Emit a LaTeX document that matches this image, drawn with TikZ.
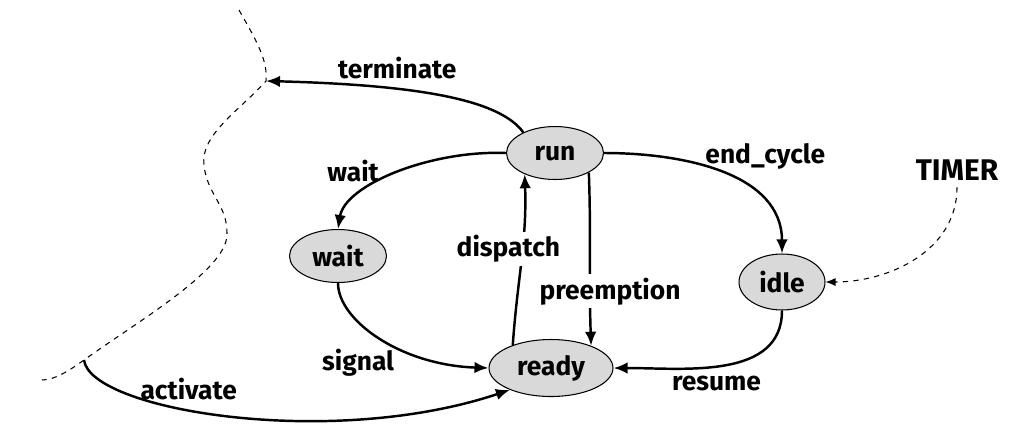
\documentclass[tikz,border=0pt]{standalone}
\usepackage{fontspec}
\setmainfont{Fira Sans}
\usepackage{tikz}
\usetikzlibrary{arrows.meta,shapes.geometric,positioning}
\definecolor{stategray}{RGB}{217,217,217}

\begin{document}
\begin{tikzpicture}[-{Latex[length=2.8mm,width=2.3mm]}, line width=1.4pt, x=0.02cm, y=-0.02cm,
      every node/.append style={font=\fontsize{15}{18}\selectfont\bfseries}]
    \tikzstyle{state} = [ellipse,draw,fill=stategray,line width=0.6pt,inner sep=0pt,minimum width=1.94cm,minimum height=1.06cm]
    \tikzstyle{label} = [fill=white,inner sep=2pt]
    \tikzstyle{border} = [-,dashed,line width=0.6pt]
    \useasboundingbox (0,0) rectangle (1036,441);
    \node (run) [state] at (555,153) {run};
    \node (wait) [state] at (338,256) {wait};
    \node (ready) [state,minimum width=2.48cm,minimum height=1.14cm] at (551,368) {ready};
    \node (idle) [state,minimum width=1.72cm,minimum height=1.12cm] at (782,282) {idle};
    \node (TIMER) [font=\fontsize{17}{20}\selectfont\bfseries] at (957,170) {TIMER};
    \coordinate (exit) at (266,81);
    \coordinate (entry) at (84,360);
    \draw[border] (239,10) .. controls (256,40) and (268,60) .. (exit)
      .. controls (240,110) and (200,135) .. (204,165)
      .. controls (207,195) and (228,205) .. (227,235)
      .. controls (226,270) and (140,320) .. (entry)
      .. controls (70,370) and (55,380) .. (42,380);
    \draw (run.147) .. controls (500,100) and (420,85) .. node[pos=0.65,xshift=-0.08cm,yshift=0.42cm] {terminate} (exit);
    \draw (run.west) .. controls (430,150) and (345,185) .. node[pos=0.5,xshift=-0.86cm,yshift=0.04cm] {wait} (wait.north);
    \draw (wait.south) .. controls (338,320) and (400,365) .. node[pos=0.5,xshift=-0.44cm,yshift=-0.48cm] {signal} (ready.west);
    \draw (ready.149) to[out=86,in=-88] node[label,pos=0.57,xshift=-0.28cm] {dispatch} (run.215);
    \draw (run.330) to[out=-88,in=92] node[label,pos=0.7,xshift=0.4cm] {preemption} (ready.29);
    \draw (run.east) to[out=0,in=90] node[pos=0.5,above right=-2pt and -14pt] {end\_cycle} (idle.north);
    \draw (idle.south) to[out=-90,in=0] node[pos=0.55,below=1pt,xshift=0.06cm] {resume} (ready.east);
    \draw (entry) .. controls (90,410) and (330,450) .. node[pos=0.35,xshift=0.5cm,yshift=0.32cm] {activate} (ready.208);
    \draw[border,-{Latex[length=2mm,width=1.6mm]}] (TIMER.south) to[out=-90,in=0] (idle.east);
  \end{tikzpicture}
\end{document}
